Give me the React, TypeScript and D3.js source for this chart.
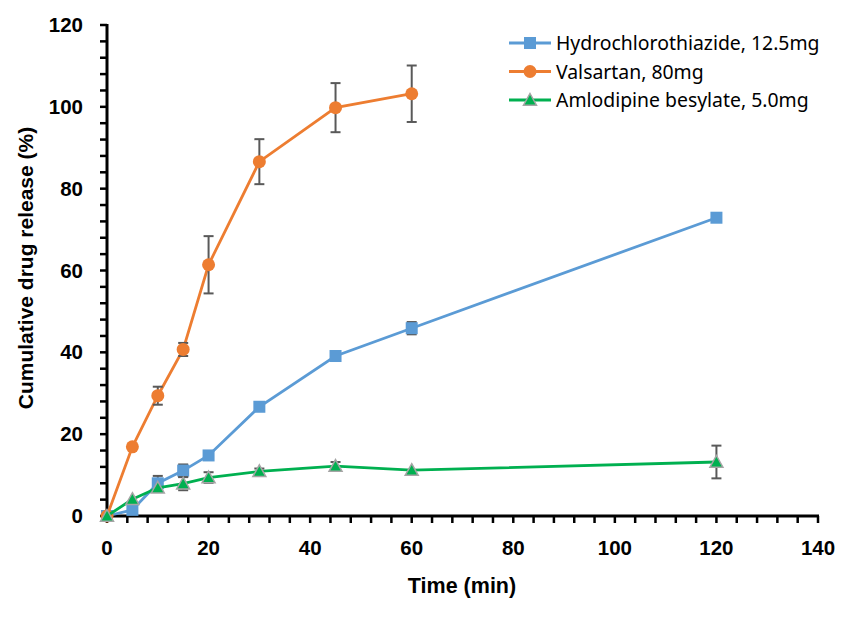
import React, { useEffect } from "react";
import * as d3 from "d3";

const times = [0, 5, 10, 15, 20, 30, 45, 60, 120];
const valsartanTimes = [0, 5, 10, 15, 20, 30, 45, 60];
const hctzValues = [0, 1.5, 8.0, 11.1, 14.8, 26.7, 39.1, 45.9, 72.9];
const hctzErrors = [0, 0, 1.8, 1.5, 0, 0, 0.8, 1.5, 0];
const valsartanValues = [0, 16.9, 29.4, 40.7, 61.4, 86.6, 99.8, 103.2];
const valsartanErrors = [0, 0, 2.2, 1.6, 7.0, 5.5, 6.0, 6.9];
const amlodipineValues = [0, 4.1, 6.9, 7.9, 9.4, 10.9, 12.2, 11.2, 13.2];
const amlodipineErrors = [0, 0, 0, 1.6, 1.3, 0.7, 1.0, 0, 4.0];
const xTicks = [0, 20, 40, 60, 80, 100, 120, 140];
const yTicks = [0, 20, 40, 60, 80, 100, 120];
const legendLabels = ["Hydrochlorothiazide, 12.5mg", "Valsartan, 80mg", "Amlodipine besylate, 5.0mg"];

const W = 855, H = 619;
const m = { left: 107, right: 818, top: 25, bottom: 516 };
const axisFont = "'Liberation Sans', Arial, sans-serif";
const legendFont = "'Noto Sans', sans-serif";

export default function App() {
  useEffect(() => {
    document.body.style.margin = "0";
  }, []);
  const x = d3.scaleLinear().domain([0, 140]).range([m.left, m.right]);
  const y = d3.scaleLinear().domain([0, 120]).range([m.bottom, m.top]);
  const line = d3.line<[number, number]>().x(d => x(d[0])).y(d => y(d[1]));
  const minorX = d3.range(0, 141, 4);
  const minorY = d3.range(0, 121, 4);

  const series = [
    { t: times, v: hctzValues, e: hctzErrors, color: "#5B9BD5", marker: "square", label: legendLabels[0] },
    { t: valsartanTimes, v: valsartanValues, e: valsartanErrors, color: "#ED7D31", marker: "circle", label: legendLabels[1] },
    { t: times, v: amlodipineValues, e: amlodipineErrors, color: "#00B050", marker: "triangle", label: legendLabels[2] },
  ];

  const marker = (kind: string, cx: number, cy: number, color: string, key?: any) => {
    if (kind === "square") return <rect key={key} x={cx - 6} y={cy - 6} width={12} height={12} fill={color} />;
    if (kind === "circle") return <circle key={key} cx={cx} cy={cy} r={6.5} fill={color} />;
    const s = 6.5;
    return <path key={key} d={`M${cx},${cy - s}L${cx + s},${cy + s * 0.8}L${cx - s},${cy + s * 0.8}Z`} fill={color} stroke="#A5A5A5" strokeWidth={1.5} />;
  };

  return (
    <svg width={W} height={H} style={{ display: "block", background: "#fff" }}>
      {/* axes */}
      {minorX.map(t => (
        <line key={"xt" + t} x1={x(t)} x2={x(t)} y1={m.bottom} y2={m.bottom + 7} stroke="#000" strokeWidth={2.5} />
      ))}
      {minorY.map(t => (
        <line key={"yt" + t} x1={m.left - 7} x2={m.left} y1={y(t)} y2={y(t)} stroke="#000" strokeWidth={2.5} />
      ))}
      <line x1={m.left} x2={m.right + 1} y1={m.bottom} y2={m.bottom} stroke="#000" strokeWidth={3} />
      <line x1={m.left} x2={m.left} y1={m.top - 1} y2={m.bottom + 1} stroke="#000" strokeWidth={3} />
      {xTicks.map(t => (
        <text key={"xl" + t} x={x(t)} y={555} textAnchor="middle" fontFamily={axisFont} fontWeight="bold" fontSize={20.5}>{t}</text>
      ))}
      {yTicks.map(t => (
        <text key={"yl" + t} x={83} y={y(t) + 7} textAnchor="end" fontFamily={axisFont} fontWeight="bold" fontSize={20.5}>{t}</text>
      ))}
      <text x={462} y={593} textAnchor="middle" fontFamily={axisFont} fontWeight="bold" fontSize={21.5}>Time (min)</text>
      <text transform={`translate(33,268) rotate(-90)`} textAnchor="middle" fontFamily={axisFont} fontWeight="bold" fontSize={21}>Cumulative drug release (%)</text>

      {/* series */}
      {series.map((s, si) => (
        <g key={"s" + si}>
          <path d={line(s.t.map((t, i) => [t, s.v[i]] as [number, number])) || ""} fill="none" stroke={s.color} strokeWidth={2.8} />
          {s.t.map((t, i) => s.e[i] > 0 ? (
            <g key={"e" + i} stroke="#595959" strokeWidth={2}>
              <line x1={x(t)} x2={x(t)} y1={y(s.v[i] + s.e[i])} y2={y(s.v[i] - s.e[i])} />
              <line x1={x(t) - 5} x2={x(t) + 5} y1={y(s.v[i] + s.e[i])} y2={y(s.v[i] + s.e[i])} />
              <line x1={x(t) - 5} x2={x(t) + 5} y1={y(s.v[i] - s.e[i])} y2={y(s.v[i] - s.e[i])} />
            </g>
          ) : null)}
          {s.t.map((t, i) => marker(s.marker, x(t), y(s.v[i]), s.color, "m" + i))}
        </g>
      ))}

      {/* legend */}
      {series.map((s, i) => {
        const ly = 43 + i * 28.5;
        return (
          <g key={"lg" + i}>
            <line x1={509} x2={551} y1={ly} y2={ly} stroke={s.color} strokeWidth={2.8} />
            {marker(s.marker, 530, ly, s.color)}
            <text x={556} y={ly + 7} fontFamily={legendFont} fontSize={19.4} fill="#000">{s.label}</text>
          </g>
        );
      })}
    </svg>
  );
}
